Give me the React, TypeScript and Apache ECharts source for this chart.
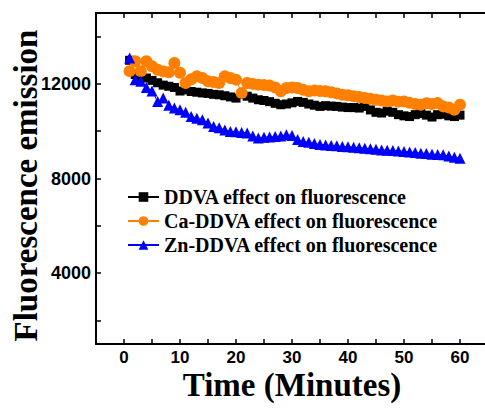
import React, { useEffect, useRef } from "react";
import * as echarts from "echarts";

const times: number[] = [
  1, 2, 3, 4, 5, 6, 7, 8, 9, 10, 11, 12, 13, 14, 15, 16, 17, 18, 19, 20,
  21, 22, 23, 24, 25, 26, 27, 28, 29, 30, 31, 32, 33, 34, 35, 36, 37, 38, 39, 40,
  41, 42, 43, 44, 45, 46, 47, 48, 49, 50, 51, 52, 53, 54, 55, 56, 57, 58, 59, 60,
];

const ddva: number[] = [
  13000, 12400, 12300, 12250, 12150, 12050, 11950, 11900, 11850, 11700,
  11750, 11680, 11650, 11620, 11600, 11560, 11540, 11500, 11450, 11400,
  11550, 11480, 11400, 11330, 11300, 11250, 11180, 11120, 11150, 11200,
  11260, 11220, 11150, 11100, 11050, 11080, 11060, 11050, 11020, 11000,
  11000, 10980, 11050, 10900, 10800, 10770, 10850, 10800, 10700, 10650,
  10620, 10700, 10750, 10680, 10600, 10700, 10720, 10650, 10620, 10680,
];

const caDdva: number[] = [
  12540, 12960, 12540, 12960, 12750, 12600, 12530, 12490, 12890, 12470,
  12040, 12200, 12320, 12250, 12110, 12080, 12040, 12320, 12250, 12180,
  11620, 12040, 12000, 11970, 11950, 11930, 11850, 11690, 11830, 11850,
  11830, 11750, 11690, 11720, 11700, 11690, 11650, 11600, 11545, 11520,
  11475, 11450, 11400, 11370, 11330, 11300, 11260, 11300, 11250, 11260,
  11200, 11150, 11120, 11180, 11150, 11190, 11050, 11000, 10910, 11120,
];

const znDdva: number[] = [
  13100, 12180, 12110, 11850, 11700, 11260, 11400, 11100, 10980, 10910,
  10800, 10625, 10550, 10485, 10350, 10200, 10150, 10050, 9990, 9980,
  9950, 9920, 9800, 9710, 9750, 9760, 9775, 9800, 9850, 9820,
  9650, 9560, 9530, 9480, 9440, 9420, 9400, 9380, 9350, 9340,
  9320, 9300, 9280, 9260, 9240, 9210, 9200, 9180, 9160, 9140,
  9120, 9100, 9070, 9060, 9030, 9010, 9000, 8950, 8900, 8860,
];

const seriesNames: string[] = [
  "DDVA effect on fluorescence",
  "Ca-DDVA effect on fluorescence",
  "Zn-DDVA effect on fluorescence",
];

const xTicks: number[] = [0, 5, 10, 15, 20, 25, 30, 35, 40, 45, 50, 55, 60];
const xLabels: number[] = [0, 10, 20, 30, 40, 50, 60];
const yTicks: number[] = [2000, 4000, 6000, 8000, 10000, 12000, 14000];
const yLabels: number[] = [4000, 8000, 12000];

export default function App() {
  const ref = useRef<HTMLDivElement>(null);

  useEffect(() => {
    if (!ref.current) return;
    const chart = echarts.init(ref.current, undefined, { renderer: "svg" });
    const pair = (vals: number[]) => times.map((t, i) => [t, vals[i]]);
    const axisLine = { show: true, onZero: false, lineStyle: { color: "#000", width: 2 } };
    const tickStyle = { show: true, inside: true, length: 5, lineStyle: { color: "#000", width: 1.5 } };
    const labelFont = {
      fontFamily: "Liberation Sans",
      fontWeight: "bold" as const,
      fontSize: 17,
      lineHeight: 16,
      color: "#000",
      formatter: (v: number) => String(v),
    };
    const serif = "Liberation Serif";
    const legendText = {
      fontFamily: serif,
      fontWeight: "bold" as const,
      fontSize: 20,
      color: "#000",
    };

    chart.setOption({
      animation: false,
      backgroundColor: "#fff",
      textStyle: { fontFamily: serif },
      grid: {
        left: 96,
        top: 13,
        width: 392,
        bottom: 65,
        containLabel: false,
        outerBoundsMode: "none",
      },
      legend: {
        orient: "vertical",
        left: 122,
        top: 182,
        itemWidth: 31,
        itemHeight: 12,
        itemGap: 4,
        data: seriesNames.map((name) => ({ name, textStyle: legendText })),
        textStyle: legendText,
      },
      xAxis: [
        {
          type: "value",
          position: "bottom",
          min: -5,
          max: 65,
          axisLine,
          axisTick: { ...tickStyle, customValues: xTicks },
          axisLabel: { ...labelFont, margin: 5, customValues: xLabels },
          splitLine: { show: false },
          name: "Time (Minutes)",
          nameLocation: "middle",
          nameGap: 26,
          nameMoveOverlap: false,
          nameTextStyle: {
            fontFamily: serif,
            fontWeight: "bold",
            fontSize: 33,
            lineHeight: 30,
            color: "#000",
          },
        },
        {
          type: "value",
          position: "top",
          min: -5,
          max: 65,
          axisLine,
          axisTick: { ...tickStyle, customValues: xTicks },
          axisLabel: { show: false },
          splitLine: { show: false },
        },
      ],
      yAxis: [
        {
          type: "value",
          position: "left",
          min: 1000,
          max: 15000,
          axisLine,
          axisTick: { ...tickStyle, customValues: yTicks },
          axisLabel: { ...labelFont, fontSize: 18, margin: 5, customValues: yLabels },
          splitLine: { show: false },
          name: "Fluorescence emission",
          nameLocation: "middle",
          nameGap: 55,
          nameRotate: 90,
          nameMoveOverlap: false,
          nameTextStyle: {
            fontFamily: serif,
            fontWeight: "bold",
            fontSize: 33,
            lineHeight: 30,
            color: "#000",
            padding: [0, 14, 0, 0],
          },
        },
        {
          type: "value",
          position: "right",
          min: 1000,
          max: 15000,
          axisLine,
          axisTick: { show: false },
          axisLabel: { show: false },
          splitLine: { show: false },
        },
      ],
      series: [
        {
          name: seriesNames[0],
          type: "line",
          data: pair(ddva),
          symbol: "rect",
          symbolSize: 9,
          itemStyle: { color: "#000000" },
          lineStyle: { color: "#000000", width: 1 },
        },
        {
          name: seriesNames[1],
          type: "line",
          data: pair(caDdva),
          symbol: "circle",
          symbolSize: 12,
          itemStyle: { color: "#FF8000" },
          lineStyle: { color: "#FF8000", width: 1 },
        },
        {
          name: seriesNames[2],
          type: "line",
          data: pair(znDdva),
          symbol: "triangle",
          symbolSize: 11,
          itemStyle: { color: "#0000FF" },
          lineStyle: { color: "#0000FF", width: 1 },
        },
      ],
    });
    return () => chart.dispose();
  }, []);

  return (
    <div
      ref={ref}
      style={{ position: "fixed", left: 0, top: 0, width: 485, height: 409 }}
    />
  );
}
